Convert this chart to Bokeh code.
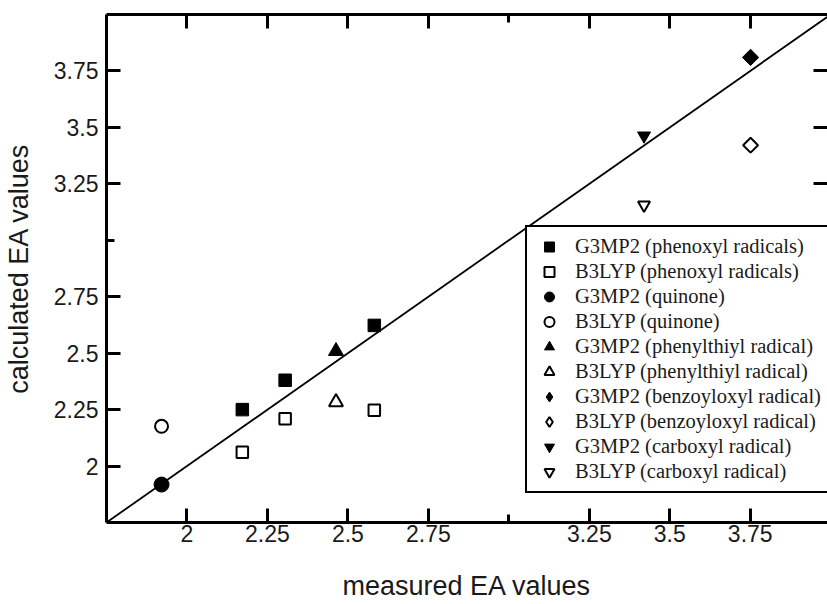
import numpy as np
from bokeh.plotting import figure
from bokeh.models import (LinearAxis, FixedTicker, Slope, Legend, LegendItem,
                          Range1d, ColumnDataSource)
from bokeh.embed import file_html
from bokeh.resources import INLINE

# ---------------- data ----------------
phenoxyl_measured = [2.172, 2.305, 2.582]
phenoxyl_g3mp2 = [2.25, 2.38, 2.623]
phenoxyl_b3lyp = [2.061, 2.21, 2.247]

quinone_measured = [1.921]
quinone_g3mp2 = [1.918]
quinone_b3lyp = [2.176]

phenylthiyl_measured = [2.463]
phenylthiyl_g3mp2 = [2.509]
phenylthiyl_b3lyp = [2.283]

benzoyloxyl_measured = [3.751]
benzoyloxyl_g3mp2 = [3.81]
benzoyloxyl_b3lyp = [3.421]

carboxyl_measured = [3.42]
carboxyl_g3mp2 = [3.463]
carboxyl_b3lyp = [3.156]

tick_values = [2.0, 2.25, 2.5, 2.75, 3.25, 3.5, 3.75]
tick_labels = ["2", "2.25", "2.5", "2.75", "3.25", "3.5", "3.75"]
unlabeled_ticks = [3.0]

legend_labels = [
    "G3MP2 (phenoxyl radicals)",
    "B3LYP (phenoxyl radicals)",
    "G3MP2 (quinone)",
    "B3LYP (quinone)",
    "G3MP2 (phenylthiyl radical)",
    "B3LYP (phenylthiyl radical)",
    "G3MP2 (benzoyloxyl radical)",
    "B3LYP (benzoyloxyl radical)",
    "G3MP2 (carboxyl radical)",
    "B3LYP (carboxyl radical)",
]

# ---------------- figure ----------------
p = figure(width=827, height=604, output_backend="svg", toolbar_location=None,
           x_range=Range1d(1.75, 3.99), y_range=Range1d(1.75, 4.0),
           min_border_left=106, min_border_right=0, min_border_top=14,
           min_border_bottom=82, background_fill_color="white",
           border_fill_color="white", outline_line_color=None)
p.xgrid.visible = False
p.ygrid.visible = False

overrides = {v: t for v, t in zip(tick_values, tick_labels)}

def style_axis(ax, labels=True):
    ax.ticker = FixedTicker(ticks=tick_values, minor_ticks=unlabeled_ticks)
    ax.axis_line_width = 3
    ax.axis_line_color = "black"
    ax.major_tick_in = 14
    ax.major_tick_out = 0
    ax.major_tick_line_width = 3
    ax.major_tick_line_color = "black"
    ax.minor_tick_in = 8
    ax.minor_tick_out = 0
    ax.minor_tick_line_width = 3
    ax.minor_tick_line_color = "black"
    if labels:
        ax.major_label_overrides = overrides
        ax.major_label_text_font = "Liberation Sans"
        ax.major_label_text_font_size = "23px"
        ax.major_label_text_color = "#1a1a1a"
        ax.axis_label_text_font = "Liberation Sans"
        ax.axis_label_text_font_size = "27px"
        ax.axis_label_text_font_style = "normal"
        ax.axis_label_text_color = "#1a1a1a"
    else:
        ax.major_label_text_color = None
        ax.major_label_text_font_size = "1px"
        ax.major_label_standoff = 0

xa = p.xaxis[0]
ya = p.yaxis[0]
style_axis(xa)
style_axis(ya)
xa.axis_label = "measured EA values"
ya.axis_label = "calculated EA values"
xa.major_label_standoff = 2
xa.axis_label_standoff = 26
ya.major_label_standoff = 8
ya.axis_label_standoff = 17

top = LinearAxis()
style_axis(top, labels=False)
p.add_layout(top, "above")
right = LinearAxis()
style_axis(right, labels=False)
right.axis_line_color = None
p.add_layout(right, "right")

# identity line
p.add_layout(Slope(gradient=1, y_intercept=0, line_color="black",
                   line_width=1.8, level="underlay"))

# ---------------- series ----------------
# (x, y, marker in plot, angle, filled, size, marker shown in legend)
series = [
    (phenoxyl_measured, phenoxyl_g3mp2, "square", 0, True, 12.5, None),
    (phenoxyl_measured, phenoxyl_b3lyp, "square", 0, False, 11.5, None),
    (quinone_measured, quinone_g3mp2, "circle", 0, True, 15, None),
    (quinone_measured, quinone_b3lyp, "circle", 0, False, 13, None),
    (phenylthiyl_measured, phenylthiyl_g3mp2, "triangle", 0, True, 15, None),
    (phenylthiyl_measured, phenylthiyl_b3lyp, "triangle", 0, False, 14, None),
    (benzoyloxyl_measured, benzoyloxyl_g3mp2, "square", np.pi / 4, True, 11.5, "diamond"),
    (benzoyloxyl_measured, benzoyloxyl_b3lyp, "square", np.pi / 4, False, 10.5, "diamond"),
    (carboxyl_measured, carboxyl_g3mp2, "inverted_triangle", 0, True, 13, None),
    (carboxyl_measured, carboxyl_b3lyp, "inverted_triangle", 0, False, 12, None),
]

items = []
for (xs, ys, marker, ang, filled, size, leg_marker), label in zip(series, legend_labels):
    style = dict(fill_color="black" if filled else "white",
                 line_color="black", line_width=1 if filled else 2)
    src = ColumnDataSource(dict(x=xs, y=ys))
    r = p.scatter("x", "y", source=src, marker=marker, angle=ang, size=size, **style)
    if leg_marker is not None:
        # legend-only proxy (zero size in the plot): the legend cannot
        # draw a rotated marker, so it shows a diamond marker instead
        r = p.scatter("x", "y", source=src, marker=leg_marker, size=0, **style)
    items.append(LegendItem(label=label, renderers=[r]))

legend = Legend(items=items, location=(419, 29),
                border_line_color="black", border_line_width=2.5,
                border_line_alpha=1.0,
                background_fill_color="white", background_fill_alpha=1,
                glyph_width=30, glyph_height=25, spacing=0, padding=7,
                margin=0, label_standoff=11, label_width=246, label_height=25,
                label_text_font="Liberation Serif", label_text_font_size="20.5px",
                label_text_color="#1a1a1a")
p.add_layout(legend)

open("out.html", "w").write(file_html(p, INLINE))
